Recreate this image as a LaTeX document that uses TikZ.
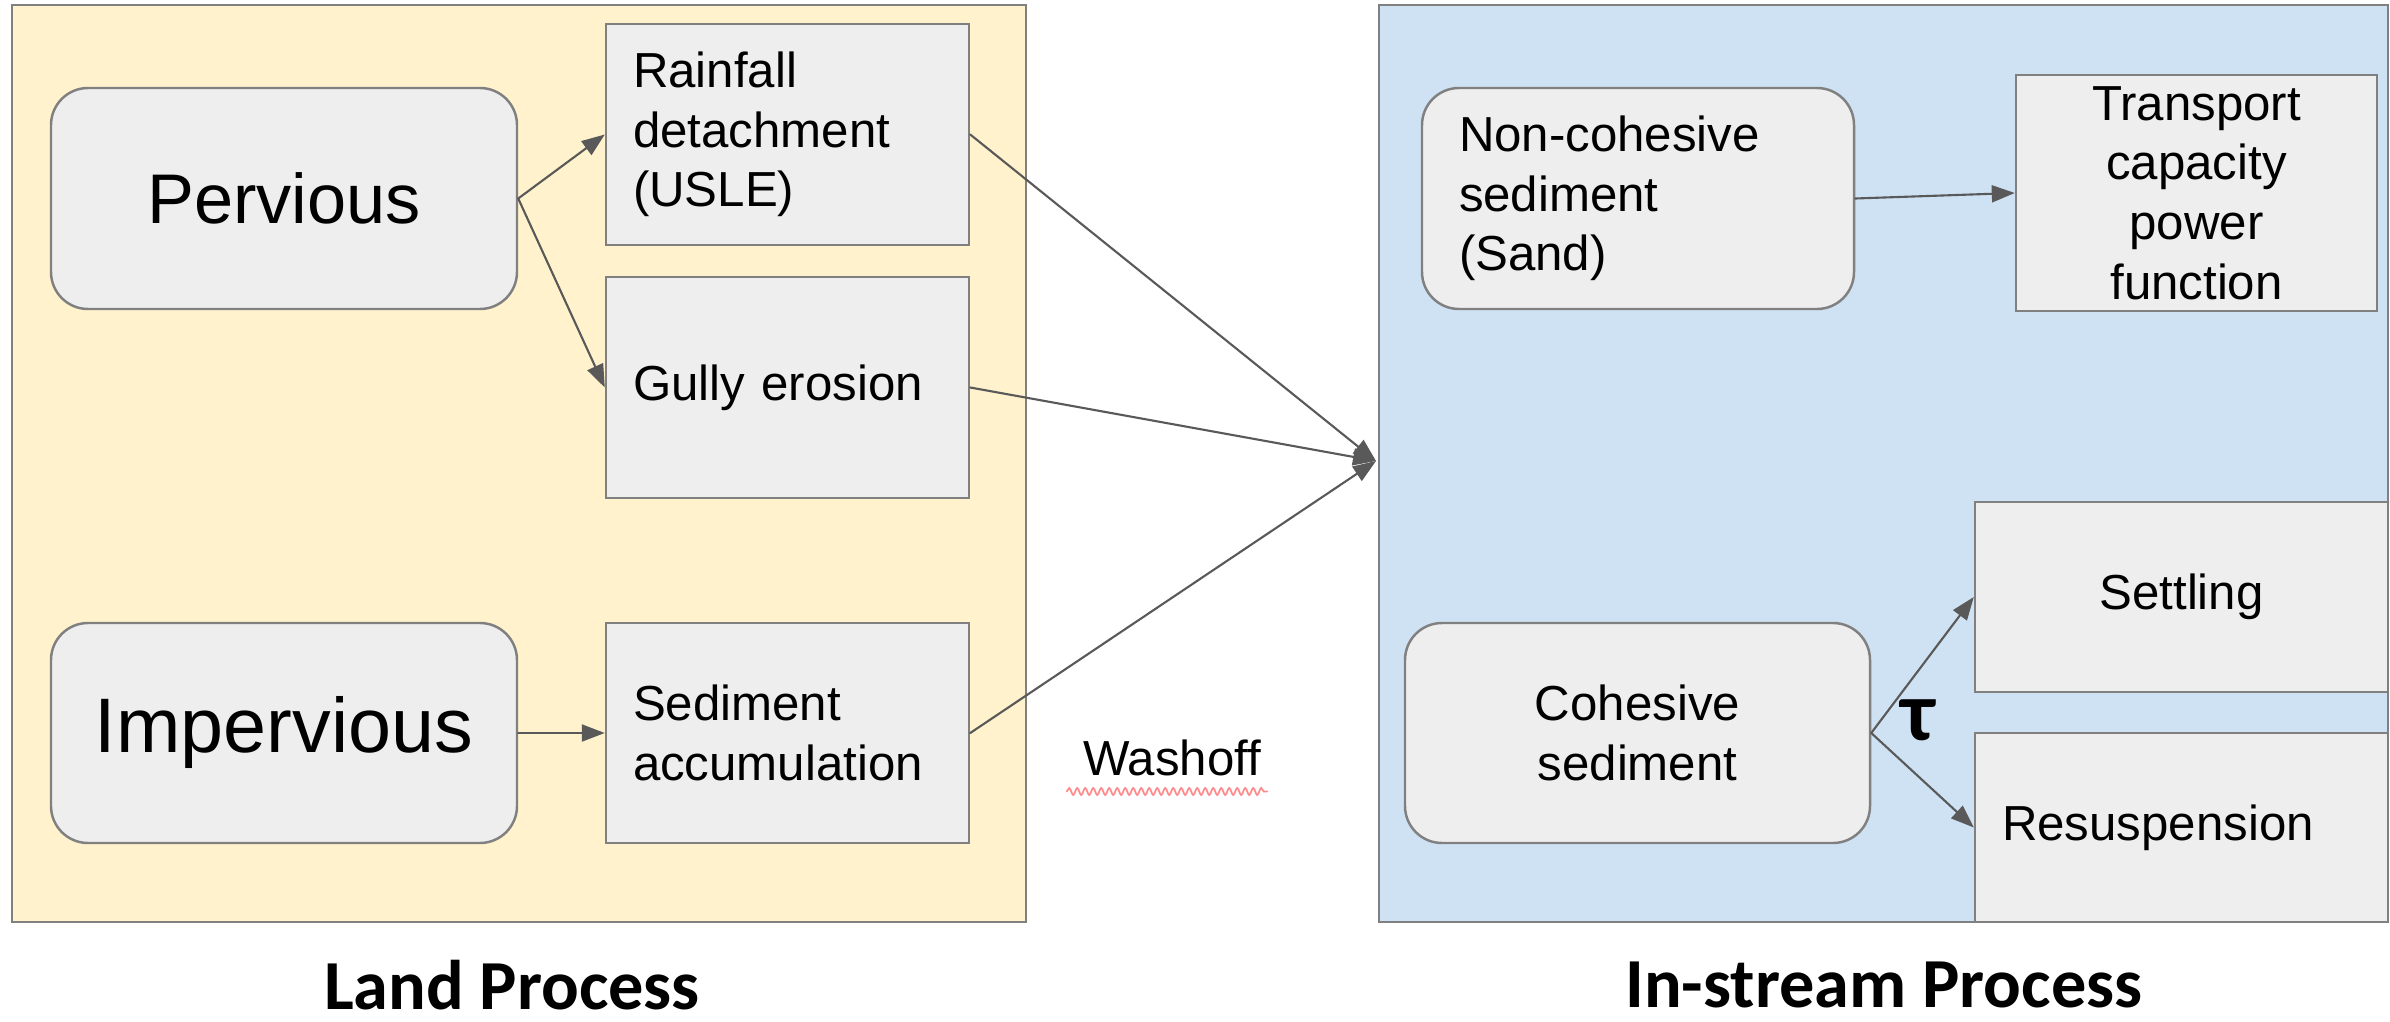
\documentclass[tikz,border=0pt]{standalone}
\usepackage{fontspec}
\setmainfont{Liberation Sans}
\newfontfamily\headfont{Carlito}
\usepackage{tikz}
\usetikzlibrary{arrows.meta,decorations.pathmorphing}
\usepackage{xcolor}

\definecolor{landbg}{HTML}{FFF2CC}
\definecolor{streambg}{HTML}{CFE2F3}
\definecolor{boxbg}{HTML}{EEEEEE}
\definecolor{edgegray}{HTML}{808080}
\definecolor{flowgray}{HTML}{595959}

\begin{document}
\begin{tikzpicture}[>={Triangle[length=2.3mm,width=1.7mm]},line cap=round,
  proc/.style={draw=edgegray,fill=boxbg,line width=0.7pt,minimum height=2.2cm,inner ysep=0pt,
    font=\fontsize{14}{17}\selectfont},
  rproc/.style={proc,rounded corners=0.37cm,inner xsep=0.37cm},
  sproc/.style={proc,inner xsep=0.27cm},
  flow/.style={->,draw=flowgray,line width=0.6pt},
  heading/.style={font=\headfont\bfseries\fontsize{20}{24}\selectfont,inner sep=1pt}]
\useasboundingbox (0,0) rectangle (23.9,-10.22);
% the two panels
\draw[edgegray,fill=landbg,line width=0.8pt] (0.12,-0.05) rectangle (10.26,-9.22);
\draw[edgegray,fill=streambg,line width=0.8pt] (13.79,-0.05) rectangle (23.88,-9.22);
% land side
\node[rproc,minimum width=4.66cm,minimum height=2.21cm,font=\fontsize{20}{24}\selectfont] (perv) at (2.84,-1.985) {Pervious};
\node[rproc,minimum width=4.66cm,font=\fontsize{22}{26}\selectfont] (imperv) at (2.84,-7.33) {Impervious};
\node[sproc,text width=3.09cm,align=left,minimum height=2.21cm] (rain) at (7.875,-1.345) {Rainfall\\detachment\\(USLE)};
\node[sproc,text width=3.09cm,align=left,minimum height=2.21cm] (gully) at (7.875,-3.875) {Gully erosion};
\node[sproc,text width=3.09cm,align=left] (accum) at (7.875,-7.33) {Sediment\\accumulation};
% in-stream side
\node[rproc,text width=3.58cm,align=left,minimum height=2.21cm] (noncoh) at (16.38,-1.985) {Non-cohesive\\sediment\\(Sand)};
\node[sproc,text width=3.07cm,align=center,minimum height=2.36cm] (transp) at (21.965,-1.93) {Transport\\capacity\\power\\function};
\node[rproc,text width=3.91cm,align=center] (cohes) at (16.375,-7.33) {Cohesive\\sediment};
\node[sproc,text width=3.59cm,align=center,minimum height=1.9cm] (settle) at (21.815,-5.97) {Settling};
\node[sproc,text width=3.59cm,align=left,minimum height=1.89cm] (resusp) at (21.815,-8.275) {Resuspension};
\coordinate (hub) at (13.76,-4.61);
% connectors
\draw[flow] (perv.east) -- (rain.west);
\draw[flow] (perv.east) -- (gully.west);
\draw[flow] (imperv.east) -- (accum.west);
\draw[flow] (rain.east) -- (hub);
\draw[flow] (gully.east) -- (hub);
\draw[flow] (accum.east) -- (hub);
\draw[flow] (noncoh.east) -- (transp.west);
\draw[flow] (cohes.east) -- (settle.west);
\draw[flow] (cohes.east) -- (resusp.west);
\node[font=\headfont\bfseries\fontsize{24}{28}\selectfont] (tau) at (19.18,-7.2) {τ};
% washoff label with its squiggle
\node[font=\fontsize{14}{17}\selectfont] (wash) at (11.72,-7.58) {Washoff};
\draw[red!45,line width=0.5pt,decorate,decoration={snake,amplitude=0.35mm,segment length=0.8mm}]
  ([xshift=-0.4mm,yshift=-0.3mm]wash.south west) -- ([xshift=-0.6mm,yshift=-0.3mm]wash.south east);
% headings
\node[heading] (landlbl) at (5.12,-9.85) {Land Process};
\node[heading] (streamlbl) at (18.84,-9.85) {In-stream Process};
\end{tikzpicture}
\end{document}
